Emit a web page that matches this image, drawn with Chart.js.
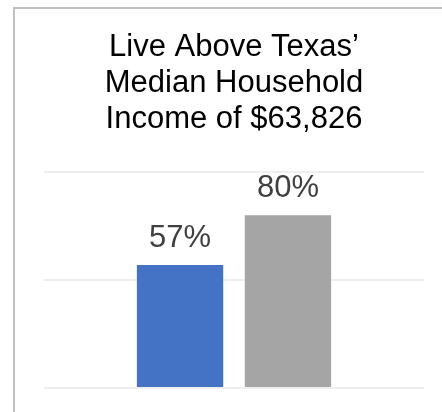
<!DOCTYPE html>
<html>
<head>
<meta charset="utf-8">
<script src="https://cdn.jsdelivr.net/npm/chart.js@4.4.1/dist/chart.umd.min.js"></script>
<style>
  body { margin: 0; background: #fff; }
  #wrap { position: relative; width: 442px; height: 412px; overflow: hidden; }
  #frame {
    position: absolute; left: 13px; top: 7px; width: 460px; height: 430px;
    border-left: 2px solid #bfbfbf; border-top: 2px solid #bfbfbf;
  }
  canvas { position: absolute; left: 0; top: 0; }
</style>
</head>
<body>
<div id="wrap">
  <div id="frame"></div>
  <canvas id="income-chart" width="442" height="412"></canvas>
</div>
<script>
const titleLines = ['Live Above Texas\u2019', 'Median Household', 'Income of $63,826'];
const categories = [''];
const seriesNames = ['Group 1', 'Group 2'];
const seriesValues = [[57], [80]];
const seriesColors = ['#4472c4', '#a5a5a5'];
const yTicks = [0, 50, 100];

// percent labels above each bar
const barLabels = {
  id: 'barLabels',
  afterDatasetsDraw(chart) {
    const ctx = chart.ctx;
    ctx.save();
    ctx.font = '31px Arial, "Liberation Sans", sans-serif';
    ctx.fillStyle = '#404040';
    ctx.textAlign = 'center';
    ctx.textBaseline = 'alphabetic';
    chart.data.datasets.forEach((ds, i) => {
      chart.getDatasetMeta(i).data.forEach((bar, j) => {
        ctx.fillText(ds.data[j] + '%', bar.x, bar.y - 18.3);
      });
    });
    ctx.restore();
  }
};

const ctx = document.getElementById('income-chart');
new Chart(ctx, {
  type: 'bar',
  data: {
    labels: categories,
    datasets: seriesNames.map((name, i) => ({
      label: name,
      data: seriesValues[i],
      backgroundColor: seriesColors[i],
      categoryPercentage: 0.568,
      barPercentage: 0.8
    }))
  },
  options: {
    responsive: false,
    animation: false,
    layout: { padding: { left: 44, right: 18, top: 0, bottom: 24 } },
    plugins: {
      legend: { display: false },
      tooltip: { enabled: false },
      title: {
        display: true,
        text: titleLines,
        color: '#000',
        font: { family: 'Arial, "Liberation Sans", sans-serif', size: 31, weight: 'normal', lineHeight: 1.168 },
        padding: { top: 29, bottom: 34.4 }
      }
    },
    scales: {
      x: { display: false },
      y: {
        min: yTicks[0],
        max: yTicks[yTicks.length - 1],
        afterBuildTicks(scale) {
          scale.ticks = yTicks.map(v => ({ value: v }));
        },
        ticks: { display: false },
        border: { display: false },
        grid: { color: '#efefef', lineWidth: 2, drawTicks: false }
      }
    }
  },
  plugins: [barLabels]
});
</script>
</body>
</html>
